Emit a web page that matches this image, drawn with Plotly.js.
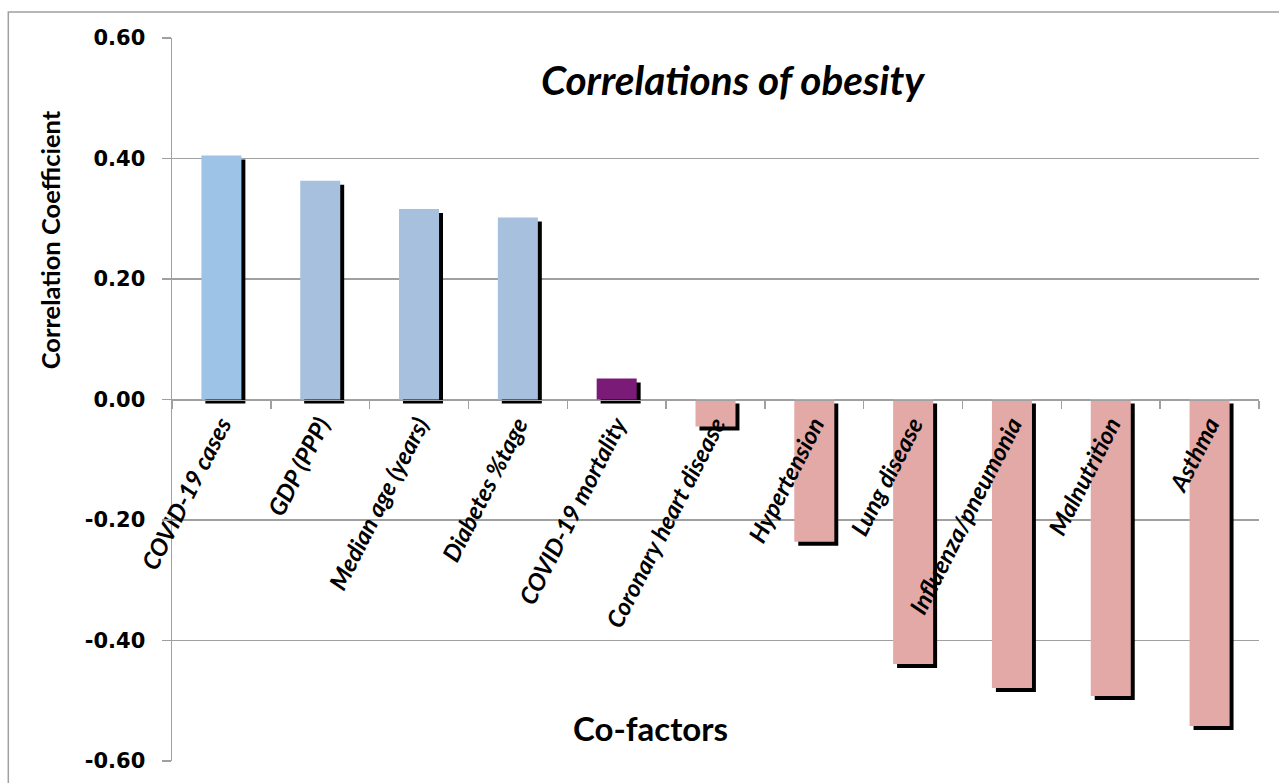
<!DOCTYPE html>
<html>
<head>
<meta charset="utf-8">
<script src="https://cdn.plot.ly/plotly-3.0.1.min.js"></script>
<style>html,body{margin:0;padding:0;background:#fff;}#chart{width:1279px;height:783px;}</style>
</head>
<body>
<div id="chart"></div>
<script>
const categories = ["COVID-19 cases","GDP (PPP)","Median age (years)","Diabetes %tage","COVID-19 mortality","Coronary heart disease","Hypertension","Lung disease","Influenza/pneumonia","Malnutrition","Asthma"];
const coefficients = [0.405, 0.363, 0.316, 0.302, 0.035, -0.045, -0.236, -0.439, -0.479, -0.492, -0.542];
const barColors = ["#9DC3E6","#A7C0DE","#A7C0DE","#A7C0DE","#7B1B78","#E3A9A7","#E3A9A7","#E3A9A7","#E3A9A7","#E3A9A7","#E3A9A7"];
const yTicks = [-0.6,-0.4,-0.2,0,0.2,0.4,0.6];
const yTickLabels = ["-0.60","-0.40","-0.20","0.00","0.20","0.40","0.60"];

const BW = 0.405;
const shadow = {
  type: 'bar', x: categories, y: coefficients, base: -0.0066,
  width: BW, offset: -BW/2 + 0.04,
  marker: {color: '#000000', line: {width: 0}},
  hoverinfo: 'skip', showlegend: false
};
const bars = {
  type: 'bar', x: categories, y: coefficients,
  width: BW, offset: -BW/2,
  marker: {color: barColors, line: {width: 0}},
  showlegend: false
};

const layout = {
  width: 1279, height: 783,
  margin: {l: 171.7, r: 20, t: 38, b: 22.3},
  paper_bgcolor: '#fff', plot_bgcolor: '#fff',
  barmode: 'overlay',
  showlegend: false,
  xaxis: {
    anchor: 'free', position: 0.5,
    showline: true, linecolor: '#A0A0A0', linewidth: 1.5,
    ticks: 'outside', tickson: 'boundaries', ticklen: 8, tickcolor: '#A0A0A0', tickwidth: 1.5,
    tickangle: -63,
    tickfont: {family: 'Lato', size: 24, color: '#000', style: 'italic', weight: 'bold'},
    showgrid: false, zeroline: false,
    range: [-0.5, 10.5]
  },
  yaxis: {
    range: [-0.6, 0.6],
    tickvals: yTicks, ticktext: yTickLabels,
    showline: true, linecolor: '#A0A0A0', linewidth: 1.5,
    ticks: 'outside', ticklen: 9, tickcolor: '#A0A0A0', tickwidth: 1.5,
    ticklabelstandoff: 12,
    tickfont: {family: 'DejaVu Sans', size: 21, color: '#000', weight: 'bold'},
    showgrid: true, gridcolor: '#A0A0A0', gridwidth: 1.5,
    zeroline: false
  },
  shapes: [{
    type: 'path', xref: 'paper', yref: 'paper',
    path: 'M -0.1506,-0.05 L -0.1506,1.036 L 1.03,1.036',
    line: {color: '#A0A0A0', width: 1.5}
  }],
  annotations: [
    {text: 'Correlations of obesity', xref: 'paper', yref: 'paper', x: 0.516, y: 0.942,
     showarrow: false, xanchor: 'center', yanchor: 'middle',
     font: {family: 'Lato', size: 40.5, color: '#000', weight: 'bold', style: 'italic'}},
    {text: 'Co-factors', xref: 'paper', yref: 'paper', x: 0.44, y: 0.045,
     showarrow: false, xanchor: 'center', yanchor: 'middle',
     font: {family: 'Lato', size: 33, color: '#000', weight: 'bold'}},
    {text: 'Correlation Coefficient', xref: 'paper', yref: 'paper', x: -0.112, y: 0.7205,
     showarrow: false, xanchor: 'center', yanchor: 'middle', textangle: -90,
     font: {family: 'Lato', size: 25.5, color: '#000', weight: 700}}
  ]
};

Plotly.newPlot('chart', [shadow, bars], layout, {displayModeBar: false, staticPlot: true});
</script>
</body>
</html>
